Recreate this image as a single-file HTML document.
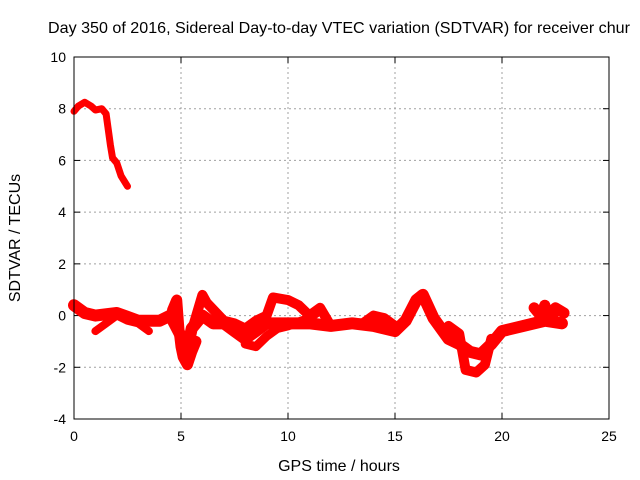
<!DOCTYPE html>
<html><head><meta charset="utf-8"><style>
body{margin:0;background:#fff;}
svg{display:block;font-family:"Liberation Sans",sans-serif;}
</style></head><body>
<svg id="chart" width="640" height="480">
<text x="48" y="33" font-size="16" textLength="582" lengthAdjust="spacingAndGlyphs" fill="#000">Day 350 of 2016, Sidereal Day-to-day VTEC variation (SDTVAR) for receiver chur</text>
<g id="grid"></g>
<g id="ticks"></g>
<g id="series"></g>
<rect x="74" y="57" width="535" height="362" fill="none" stroke="#000" stroke-width="1"/>
<text x="339" y="471" font-size="16" text-anchor="middle">GPS time / hours</text>
<text x="20" y="238" font-size="16" text-anchor="middle" transform="rotate(-90 20 238)">SDTVAR / TECUs</text>
</svg>
<script>
const xTicks=[0,5,10,15,20,25];
const yTicks=[-4,-2,0,2,4,6,8,10];
const topX=[0,0.2,0.5,0.8,1.0,1.3,1.5,1.6,1.7,1.8,2.0,2.2,2.5];
const topY=[7.9,8.1,8.25,8.1,7.95,8.0,7.8,7.2,6.6,6.1,5.9,5.4,5.0];
const aX=[0,0.5,1,2,3,4,4.5,5,5.3,5.5,6,6.5,7,7.5,8,8.5,9,10,11,12,13,14,15,15.5,16,16.3,16.8,17.5,18,18.5,19,19.5,20,21,22,22.8];
const aY=[0.4,0.1,0.0,0.1,-0.2,-0.2,0,-0.8,-1.3,-0.5,0.0,-0.3,-0.3,-0.6,-0.9,-0.6,-0.3,-0.3,-0.3,-0.4,-0.3,-0.4,-0.6,-0.2,0.6,0.8,-0.1,-0.9,-1.1,-1.4,-1.5,-1.1,-0.6,-0.4,-0.2,-0.3];
const bX=[5.5,6,6.2,7,7.5,8,8.5,9,9.3,10,10.5,11,11.5,12,13,13.5,14,14.5,15];
const bY=[-0.6,0.8,0.5,-0.2,-0.3,-0.5,-0.2,0.0,0.7,0.6,0.4,0.0,0.3,-0.4,-0.3,-0.3,0.0,-0.1,-0.4];
const cX=[8,8.5,9,9.5,10,11,11.5];
const cY=[-1.1,-1.2,-0.8,-0.5,-0.4,-0.1,0.2];
const dX=[17.5,18,18.3,18.8,19.2,19.5];
const dY=[-0.4,-0.7,-2.1,-2.2,-1.9,-0.9];
const eX=[21.5,21.8,22,22.3,22.5,22.9];
const eY=[0.3,0.0,0.4,-0.2,0.3,0.1];
const fX=[1,1.5,2,2.5,3,3.5];
const fY=[-0.6,-0.3,0.0,-0.2,-0.3,-0.6];
const gX=[4.6,4.8,4.9,5.0,5.1,5.3,5.5,5.7];
const gY=[0.2,0.6,-0.5,-1.2,-1.6,-1.9,-1.4,-1.0];
const NS="http://www.w3.org/2000/svg";
const L=74,R=609,T=57,B=419;
const sx=v=>L+(v-0)/(25-0)*(R-L);
const sy=v=>B-(v+4)/(14)*(B-T);
const grid=document.getElementById('grid'),ticks=document.getElementById('ticks'),ser=document.getElementById('series');
function mk(tag,at,parent){const e=document.createElementNS(NS,tag);for(const k in at)e.setAttribute(k,at[k]);parent.appendChild(e);return e;}
xTicks.forEach(v=>{const x=sx(v);
 if(v>0&&v<25){const g=mk('line',{x1:x,x2:x,y1:T,y2:B,stroke:'#a0a0a0','stroke-dasharray':'2,3'},grid);}
 mk('line',{x1:x,x2:x,y1:B,y2:B-6,stroke:'#000'},ticks);mk('line',{x1:x,x2:x,y1:T,y2:T+6,stroke:'#000'},ticks);
 const t=mk('text',{x:x,y:B+22,'font-size':14,'text-anchor':'middle'},ticks);t.textContent=v;
 });
yTicks.forEach(v=>{const y=sy(v);
 if(v>-4&&v<10){const g=mk('line',{x1:L,x2:R,y1:y,y2:y,stroke:'#a0a0a0','stroke-dasharray':'2,3'},grid);}
 mk('line',{x1:L,x2:L+6,y1:y,y2:y,stroke:'#000'},ticks);mk('line',{x1:R,x2:R-6,y1:y,y2:y,stroke:'#000'},ticks);
 const t=mk('text',{x:L-8,y:y+5,'font-size':14,'text-anchor':'end'},ticks);t.textContent=v;
 });
[[topX,topY,7],[aX,aY,12],[bX,bY,10],[cX,cY,9],[dX,dY,10],[eX,eY,11],[fX,fY,8],[gX,gY,11]].forEach(([xs,ys,w])=>{
 const pts=xs.map((x,i)=>sx(x)+','+sy(ys[i])).join(' ');
 const p=mk('polyline',{points:pts,fill:'none',stroke:'#ff0000','stroke-width':w,'stroke-linejoin':'round','stroke-linecap':'round'},ser);
 
 
});
</script>
</body></html>
